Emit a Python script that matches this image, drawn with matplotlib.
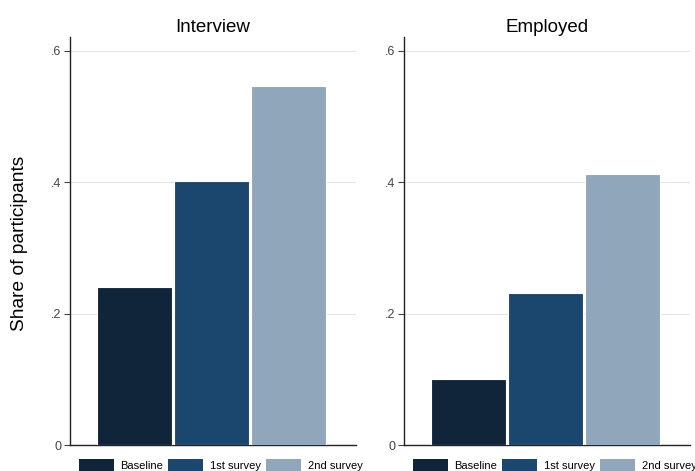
import matplotlib
matplotlib.use("Agg")
import matplotlib.pyplot as plt
from matplotlib.patches import Patch

plt.rcParams['font.family'] = ['Liberation Sans', 'DejaVu Sans']

panels = ["Interview", "Employed"]
series = ["Baseline", "1st survey", "2nd survey"]
interview = [0.24, 0.402, 0.547]
employed = [0.10, 0.231, 0.413]
values = [interview, employed]
colors = ["#10253a", "#1b466e", "#8fa6bb"]
yticks = [0, 0.2, 0.4, 0.6]
yticklabels = ["0", ".2", ".4", ".6"]

fig = plt.figure(figsize=(6.95, 4.71), dpi=100)
fig.patch.set_facecolor("white")
lefts = [70 / 695, 404 / 695]
width = 286 / 695
bottom = 1 - 445 / 471
height = (445 - 37) / 471

for i, (title, vals) in enumerate(zip(panels, values)):
    ax = fig.add_axes([lefts[i], bottom, width, height])
    for j, (v, c) in enumerate(zip(vals, colors)):
        ax.bar(j + 1, v, width=0.974, color=c, edgecolor="white", linewidth=0.8, zorder=3, label=series[j])
    ax.set_xlim(0.16, 3.87)
    ax.set_ylim(0, 0.621)
    ax.set_yticks(yticks)
    ax.set_yticklabels(yticklabels)
    ax.set_xticks([])
    ax.yaxis.grid(True, color="#e6e6e6", linewidth=0.8, zorder=0)
    for s in ["top", "right"]:
        ax.spines[s].set_visible(False)
    ax.spines["left"].set_color("#222222")
    ax.spines["bottom"].set_color("#222222")
    ax.spines["left"].set_linewidth(1.0)
    ax.spines["bottom"].set_linewidth(1.0)
    ax.tick_params(axis="y", length=4, width=0.8, color="#444444", labelcolor="#444444", labelsize=9, pad=2)
    ax.set_title(title, fontsize=13.5, pad=3.5)
    if i == 0:
        ax.set_ylabel("Share of participants", fontsize=13.8)
        ax.yaxis.set_label_coords(-0.147, 0.495)
    handles = [Patch(facecolor=c, edgecolor="none") for c in colors]
    ax.legend(handles, series, loc="upper left", bbox_to_anchor=(0.03, -0.034), ncol=3,
              frameon=False, fontsize=8, handlelength=3.15, handleheight=1.3,
              columnspacing=0.45, handletextpad=0.63, borderaxespad=0, borderpad=0)

fig.savefig("out.png", dpi=100, facecolor="white")
